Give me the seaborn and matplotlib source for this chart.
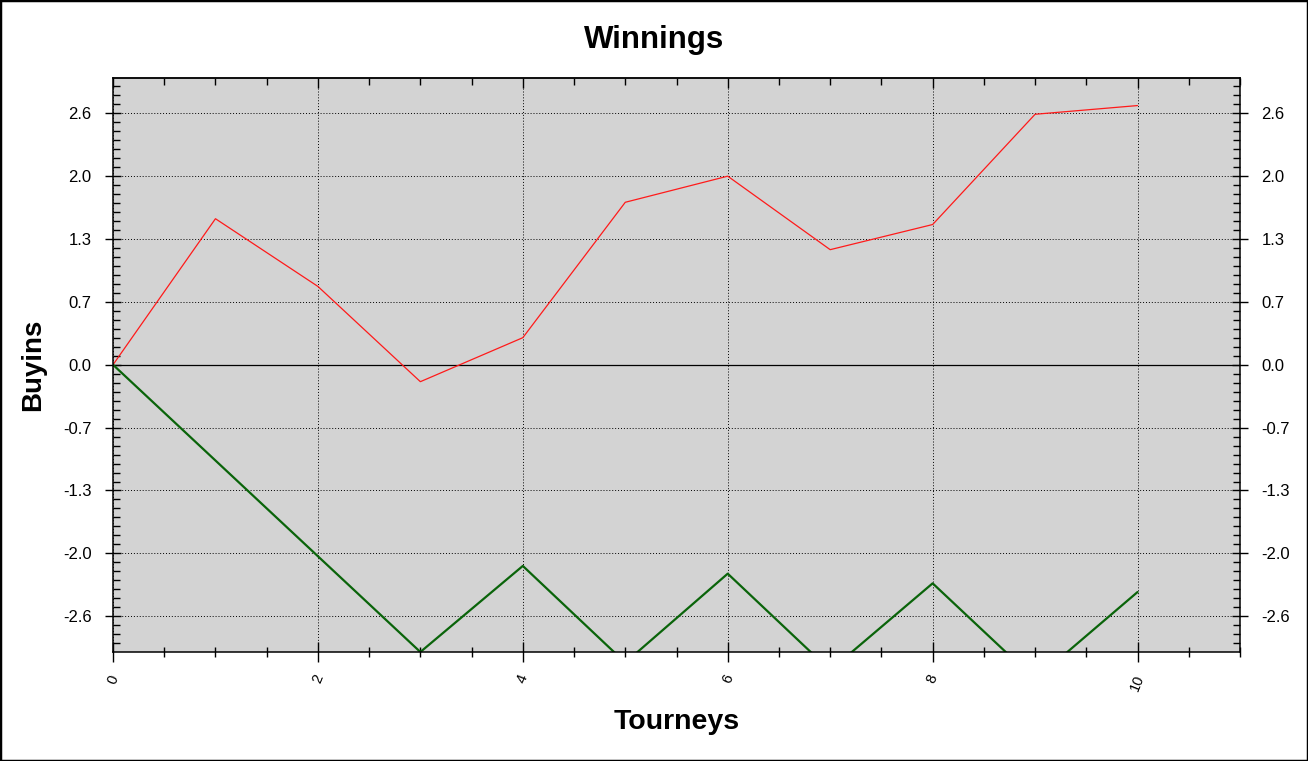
import pandas as pd
import matplotlib.pyplot as plt
import seaborn as sns
from matplotlib.ticker import MultipleLocator, FixedLocator, AutoMinorLocator
from matplotlib.patches import Rectangle

# values
tourneys = [0, 1, 2, 3, 4, 5, 6, 7, 8, 9, 10]
winnings = [0.0, 1.51, 0.81, -0.175, 0.28, 1.68, 1.95, 1.19, 1.45, 2.59, 2.68]
buyins_spent = [0.0, -0.99, -1.98, -2.97, -2.08, -3.08, -2.16, -3.16, -2.26, -3.255, -2.35]

y_ticks = [-2.6, -1.95, -1.3, -0.65, 0.0, 0.65, 1.3, 1.95, 2.6]
y_tick_labels = ["-2.6", "-2.0", "-1.3", "-0.7", "0.0", "0.7", "1.3", "2.0", "2.6"]
x_ticks = [0, 2, 4, 6, 8, 10]

df = pd.DataFrame({"Tourneys": tourneys, "Winnings": winnings, "Spent": buyins_spent})

sns.set_style("ticks")
plt.rcParams['font.family'] = ['Liberation Sans', 'DejaVu Sans']
plt.rcParams['text.color'] = 'black'

fig = plt.figure(figsize=(13.08, 7.61), dpi=100, facecolor='white')
ax = fig.add_axes([113 / 1308, 1 - 652 / 761, (1240 - 113) / 1308, (652 - 78) / 761])
ax.set_facecolor('#d3d3d3')

sns.lineplot(data=df, x="Tourneys", y="Winnings", ax=ax, color='#ff1a1a',
             linewidth=0.9, errorbar=None)
sns.lineplot(data=df, x="Tourneys", y="Spent", ax=ax, color='#0a640a',
             linewidth=1.6, errorbar=None)
ax.axhline(0, color='black', linewidth=0.9, zorder=1)

ax.set_xlim(0, 11)
ax.set_ylim(-2.97, 2.965)

ax.yaxis.set_major_locator(FixedLocator(y_ticks))
ax.set_yticklabels(y_tick_labels)
ax.yaxis.set_minor_locator(AutoMinorLocator(7))
ax.xaxis.set_major_locator(FixedLocator(x_ticks))
ax.xaxis.set_minor_locator(MultipleLocator(0.5))

ax.grid(True, which='major', color='black', linestyle=(0, (1, 2)), linewidth=0.7)

for s in ax.spines.values():
    s.set_color('black')
    s.set_linewidth(1.1)

ax.tick_params(axis='y', which='major', direction='inout', length=11, width=1,
               left=True, right=True, labelleft=True, labelright=True,
               labelsize=12, pad=10, colors='black')
ax.tick_params(axis='y', which='minor', direction='in', length=5, width=1,
               left=True, right=True, colors='black')
ax.tick_params(axis='x', which='major', direction='inout', length=14, width=1,
               bottom=True, top=False, labelsize=10.5, pad=8, colors='black')
ax.tick_params(axis='x', which='minor', direction='inout', length=7, width=1,
               bottom=True, top=False, colors='black')
for lbl in ax.get_xticklabels():
    lbl.set_rotation(68)
    lbl.set_ha('center')
    lbl.set_va('top')

top = ax.secondary_xaxis('top')
top.xaxis.set_major_locator(FixedLocator(x_ticks))
top.xaxis.set_minor_locator(MultipleLocator(0.5))
top.tick_params(which='major', direction='in', length=7, width=1, labeltop=False, colors='black')
top.tick_params(which='minor', direction='in', length=5, width=1, colors='black')
top.spines['top'].set_linewidth(1.1)

ax.set_xlabel("Tourneys", fontsize=20.5, fontweight='bold', color='black')
ax.set_ylabel("Buyins", fontsize=20, fontweight='bold', color='black')
ax.xaxis.set_label_coords(0.5, -0.10)
ax.yaxis.set_label_coords(-0.0594, 0.5)

fig.text(0.5, 1 - 40 / 761, "Winnings", ha='center', va='center',
         fontsize=22.5, fontweight='bold', color='black')

fig.patches.append(Rectangle((0, 0), 1, 1, transform=fig.transFigure,
                             fill=False, edgecolor='black', linewidth=2.5))

fig.savefig("out.png", dpi=100, facecolor='white')
